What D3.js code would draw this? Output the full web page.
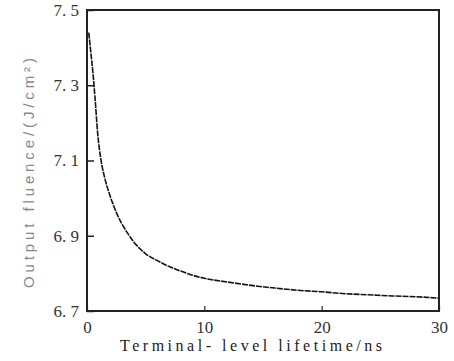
<!DOCTYPE html>
<html>
<head>
<meta charset="utf-8">
<script src="https://cdn.jsdelivr.net/npm/d3@7"></script>
<style>
  body { margin: 0; background: #fff; }
</style>
</head>
<body>
<div id="chart"></div>
<script>
// data
var lifetime = [0.15, 0.3, 0.5, 0.7, 0.9, 1.2, 1.5, 2, 2.5, 3, 3.5, 4, 4.5, 5, 6, 7, 8, 9, 10, 12, 14, 16, 18, 20, 22, 24, 26, 28, 30];
var fluence = [7.44, 7.395, 7.335, 7.26, 7.175, 7.1, 7.055, 7.003, 6.962, 6.93, 6.905, 6.883, 6.866, 6.852, 6.834, 6.818, 6.806, 6.795, 6.787, 6.777, 6.768, 6.761, 6.755, 6.751, 6.746, 6.743, 6.740, 6.738, 6.734];
var xTicks = [0, 10, 20, 30];
var yTicks = [6.7, 6.9, 7.1, 7.3, 7.5];
var xTitle = "Terminal- level lifetime/ns";
var yTitle = "Output fluence/(J/cm²)";

var serifFont = "'Times New Roman', 'Liberation Serif', 'DejaVu Serif', Times, serif";
var sansFont = "'Liberation Sans', Arial, sans-serif";

var svgWidth = 454, svgHeight = 361;
var margin = {top: 10, right: 15, bottom: 50, left: 87};
var chartWidth = svgWidth - margin.left - margin.right;
var chartHeight = svgHeight - margin.top - margin.bottom;

var svg = d3.select("#chart")
    .append("svg")
    .attr("width", svgWidth)
    .attr("height", svgHeight);

var g = svg.append("g")
    .attr("transform", `translate(${margin.left},${margin.top})`);

var x = d3.scaleLinear().domain([0, 30]).range([0, chartWidth]);
var y = d3.scaleLinear().domain([6.7, 7.5]).range([chartHeight, 0]);

// y axis, inward ticks
var yAxis = d3.axisLeft(y)
    .tickValues(yTicks)
    .tickSizeInner(-7)
    .tickSizeOuter(0)
    .tickPadding(8)
    .tickFormat(d => d3.format(".1f")(d).replace(".", ". "));
g.append("g").call(yAxis)
    .attr("font-family", serifFont)
    .attr("font-size", 17)
    .call(s => s.select(".domain").remove())
    .call(s => s.selectAll("line").attr("stroke", "#222").attr("stroke-width", 1.5))
    .call(s => s.selectAll("text")
        .style("white-space", "pre")
        .attr("fill", "#333"));

// x axis
var xAxis = d3.axisBottom(x)
    .tickValues(xTicks)
    .tickSizeInner(-5)
    .tickSizeOuter(0)
    .tickPadding(10);
g.append("g")
    .attr("transform", `translate(0,${chartHeight})`)
    .call(xAxis)
    .attr("font-family", serifFont)
    .attr("font-size", 17)
    .call(s => s.select(".domain").remove())
    .call(s => s.selectAll("line").attr("stroke", "#222").attr("stroke-width", 1.2))
    .call(s => s.selectAll("text").attr("fill", "#333"));

// frame
g.append("rect")
    .attr("x", 0).attr("y", 0)
    .attr("width", chartWidth).attr("height", chartHeight)
    .attr("fill", "none")
    .attr("stroke", "#222")
    .attr("stroke-width", 2);

// curve
var pts = lifetime.map((d, i) => [d, fluence[i]]);
var line = d3.line()
    .x(d => x(d[0]))
    .y(d => y(d[1]))
    .curve(d3.curveMonotoneX);
g.append("path")
    .datum(pts)
    .attr("d", line)
    .attr("fill", "none")
    .attr("stroke", "#111")
    .attr("stroke-width", 1.6)
    .attr("stroke-dasharray", "6,1");

// titles
svg.append("text")
    .attr("x", 251).attr("y", 351)
    .attr("text-anchor", "middle")
    .attr("font-family", serifFont)
    .attr("font-size", 16)
    .attr("fill", "#222")
    .attr("textLength", 262)
    .attr("lengthAdjust", "spacing")
    .text(xTitle);

svg.append("text")
    .attr("transform", "translate(34,173) rotate(-90)")
    .attr("text-anchor", "middle")
    .attr("font-family", sansFont)
    .attr("font-size", 15)
    .attr("fill", "#888")
    .attr("textLength", 230)
    .attr("lengthAdjust", "spacing")
    .text(yTitle);
</script>
</body>
</html>
